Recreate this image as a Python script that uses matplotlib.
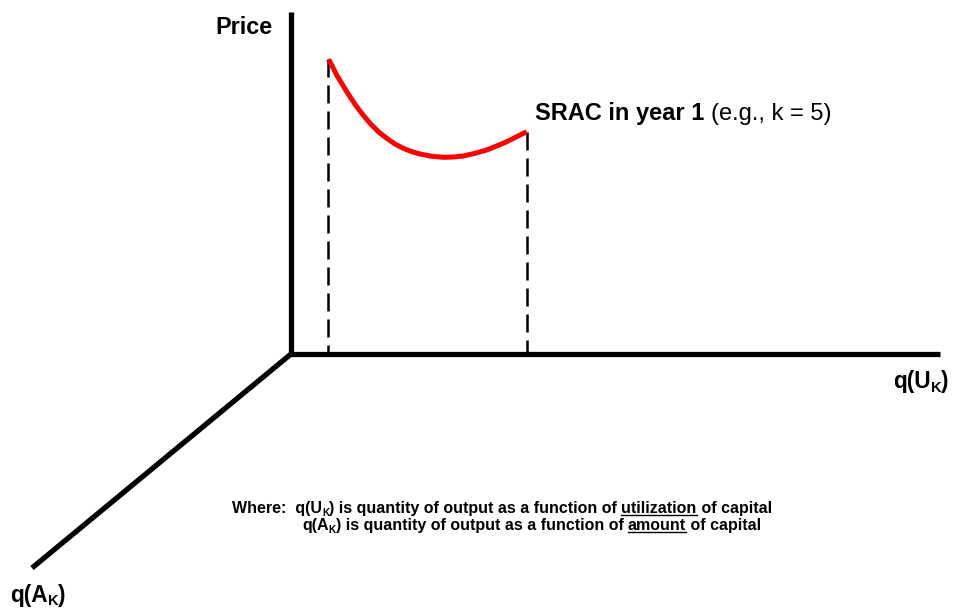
import matplotlib
matplotlib.use("Agg")
import matplotlib.pyplot as plt

# ---- data (pixel coordinates, y downward) ----
curve_x = [328.3, 331.7, 336.7, 341.7, 346.7, 351.7, 356.7, 363.3, 370.0, 378.3, 386.7, 395.0,
           403.3, 411.7, 420.0, 431.7, 443.3, 453.3, 463.3, 475.0, 486.7, 496.7, 506.7, 516.7, 526.7]
curve_y = [59.3, 65.0, 75.0, 83.3, 91.7, 99.3, 106.7, 115.3, 123.3, 131.7, 138.3, 144.0,
           148.3, 151.7, 154.0, 156.3, 157.3, 157.0, 156.0, 153.3, 150.0, 146.0, 141.7, 136.7, 131.7]

origin = (291, 354)
price_axis_top = 12
qu_axis_end = 940
qa_axis_end = (32, 568)
dash_left_x = 328
dash_right_x = 527

FONT = "Liberation Sans"

fig = plt.figure(figsize=(9.62, 6.10), dpi=100)
ax = fig.add_axes([0, 0, 1, 1])
ax.set_xlim(0, 962)
ax.set_ylim(610, 0)
ax.axis("off")

# axes lines
ax.plot([origin[0], origin[0]], [origin[1], price_axis_top], color="black", lw=3.8, solid_capstyle="butt")
ax.plot([origin[0], qu_axis_end], [origin[1], origin[1]], color="black", lw=3.8, solid_capstyle="butt")
ax.plot([origin[0], qa_axis_end[0]], [origin[1], qa_axis_end[1]], color="black", lw=3.8, solid_capstyle="butt")

# dashed drop lines
ax.plot([dash_left_x, dash_left_x], [curve_y[0], origin[1]], color="black", lw=1.8,
        linestyle=(0, (7.2, 3.2)))
ax.plot([dash_right_x, dash_right_x], [curve_y[-1], origin[1]], color="black", lw=1.8,
        linestyle=(0, (7.2, 3.2)))

# SRAC curve
ax.plot(curve_x, curve_y, color="#ff0000", lw=3.6, solid_capstyle="butt",
        solid_joinstyle="round", zorder=5)

fig.canvas.draw()
renderer = fig.canvas.get_renderer()


def text_width(txt, size, weight):
    t1 = ax.text(0, 0, txt + "|", fontsize=size, weight=weight, family=FONT)
    t2 = ax.text(0, 0, "|", fontsize=size, weight=weight, family=FONT)
    w = t1.get_window_extent(renderer).width - t2.get_window_extent(renderer).width
    t1.remove()
    t2.remove()
    return w


def runs(x, y, parts):
    cx = x
    for txt, size, weight, dy, ul in parts:
        ax.text(cx, y + dy, txt, fontsize=size, weight=weight, family=FONT,
                va="baseline", ha="left", color="black")
        w = text_width(txt, size, weight)
        if ul:
            ax.plot([cx, cx + w], [y + 2.4, y + 2.4], color="black", lw=1.0)
        cx += w


# Labels
runs(215, 34, [("Price", 16.8, "bold", 0, False)])
runs(535, 120, [("SRAC in year 1 ", 17, "bold", 0, False),
                ("(e.g., k = 5)", 17, "normal", 0, False)])
runs(893, 388, [("q(U", 16.3, "bold", 0, False), ("K", 10.5, "bold", 4, False),
                (")", 16.3, "bold", 0, False)])
runs(10, 602, [("q(A", 16.3, "bold", 0, False), ("K", 10.5, "bold", 3, False),
               (")", 16.3, "bold", 0, False)])

fs = 11.5
fsub = 7.2
runs(232, 513, [("Where:  q(U", fs, "bold", 0, False), ("K", fsub, "bold", 2.8, False),
                (") is quantity of output as a function of ", fs, "bold", 0, False),
                ("utilization", fs, "bold", 0, True),
                (" of capital", fs, "bold", 0, False)])
runs(302, 530, [("q(A", fs, "bold", 0, False), ("K", fsub, "bold", 2.8, False),
                (") is quantity of output as a function of ", fs, "bold", 0, False),
                ("amount", fs, "bold", 0, True),
                (" of capital", fs, "bold", 0, False)])

fig.savefig("out.png", dpi=100)
